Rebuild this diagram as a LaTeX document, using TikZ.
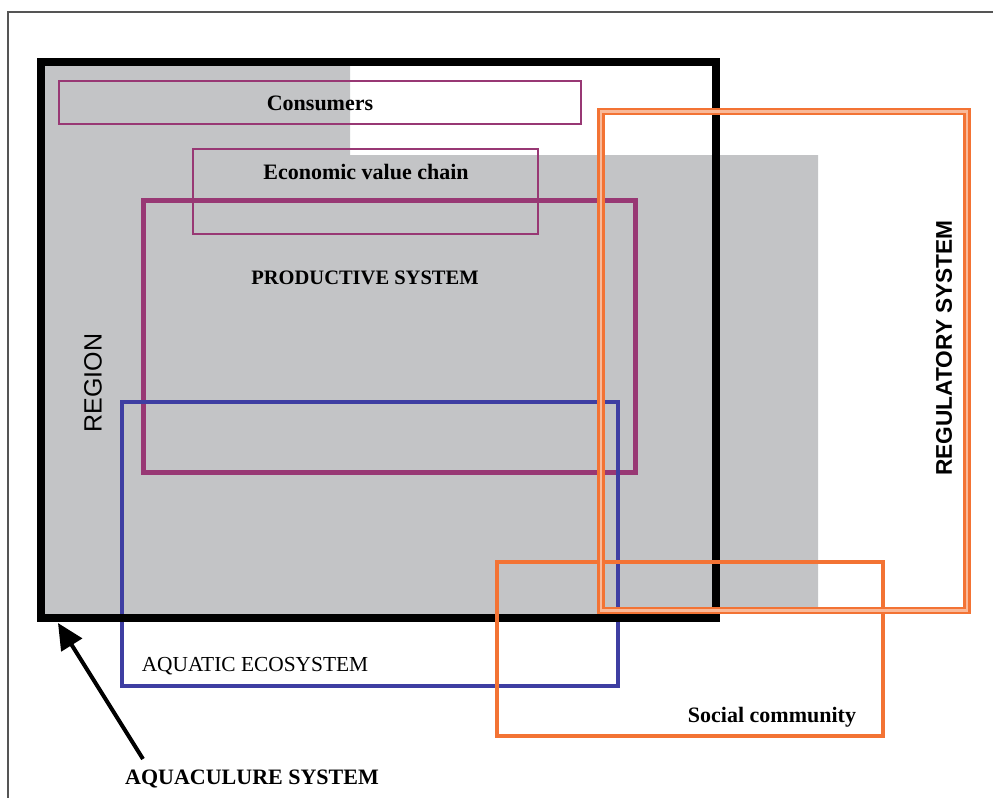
\documentclass[tikz,border=0pt]{standalone}
\usepackage{fontspec}
\setmainfont{Liberation Serif}
\setsansfont{Liberation Sans}
\usetikzlibrary{arrows.meta}

\definecolor{areagray}{RGB}{195,196,198}
\definecolor{framegray}{RGB}{85,85,85}
\definecolor{prodpurple}{RGB}{152,56,116}
\definecolor{ecoblue}{RGB}{62,62,162}
\definecolor{regorange}{RGB}{243,115,52}

\begin{document}
\begin{tikzpicture}[x=1pt,y=-1pt,
    boxtext/.style={font=\fontsize{22}{24}\selectfont\bfseries, inner sep=0pt},
    sidetext/.style={font=\sffamily\fontsize{25}{27}\selectfont, inner sep=0pt, rotate=90}]
    \useasboundingbox (0,0) rectangle (993,798);

    % corners
    \coordinate (a0) at (41,62);
    \coordinate (a1) at (715.5,618);
    \coordinate (c0) at (59,81);
    \coordinate (c1) at (581,124);
    \coordinate (v0) at (193,149);
    \coordinate (v1) at (538,234);
    \coordinate (p0) at (143,200);
    \coordinate (p1) at (635,472);
    \coordinate (e0) at (122,402);
    \coordinate (e1) at (618,686);
    \coordinate (s0) at (497,562);
    \coordinate (s1) at (883,736);
    \coordinate (r0) at (601,111.5);
    \coordinate (r1) at (967,610.5);
    \coordinate (tip) at (58,623);

    % frame
    \draw[framegray, line width=2] (993,11.5) -- (7.5,11.5) -- (7.5,798);

    % shaded area
    \fill[areagray] (a0) -- (350,62) -- (350,155) -- (818,155) -- (818,611)
        -- (715,611) -- (715,618) -- (41,618) -- cycle;

    \draw[prodpurple, line width=1.5] (c0) rectangle (c1);
    \draw[prodpurple, line width=1.5] (v0) rectangle (v1);
    \draw[prodpurple, line width=5] (p0) rectangle (p1);
    \draw[ecoblue, line width=4] (e0) rectangle (e1);
    \draw[black, line width=8] (a0) rectangle (a1);
    \draw[regorange, line width=3.5] (s0) rectangle (s1);
    \draw[regorange, line width=2.3, double=regorange!50, double distance=2.6] (r0) rectangle (r1);

    \node[boxtext] (cons) at (320,103) {Consumers};
    \node[boxtext] (chain) at (366,172) {Economic value chain};
    \node[boxtext, font=\fontsize{20.5}{22}\selectfont\bfseries] (prod) at (365,278) {PRODUCTIVE SYSTEM};
    \node[sidetext] (region) at (93,383) {REGION};
    \node[sidetext, font=\sffamily\fontsize{22.7}{24}\selectfont\bfseries] (reg) at (944,348) {REGULATORY SYSTEM};
    \node[boxtext, font=\fontsize{21.4}{23}\selectfont] (aqua) at (255,666) {AQUATIC ECOSYSTEM};
    \node[boxtext] (social) at (772,717) {Social community};
    \node[boxtext] (aqsys) at (252,779) {AQUACULURE SYSTEM};

    \draw[black, line width=4, -{Triangle[length=26, width=24]}] (143,759) -- (tip);
  \end{tikzpicture}
\end{document}
